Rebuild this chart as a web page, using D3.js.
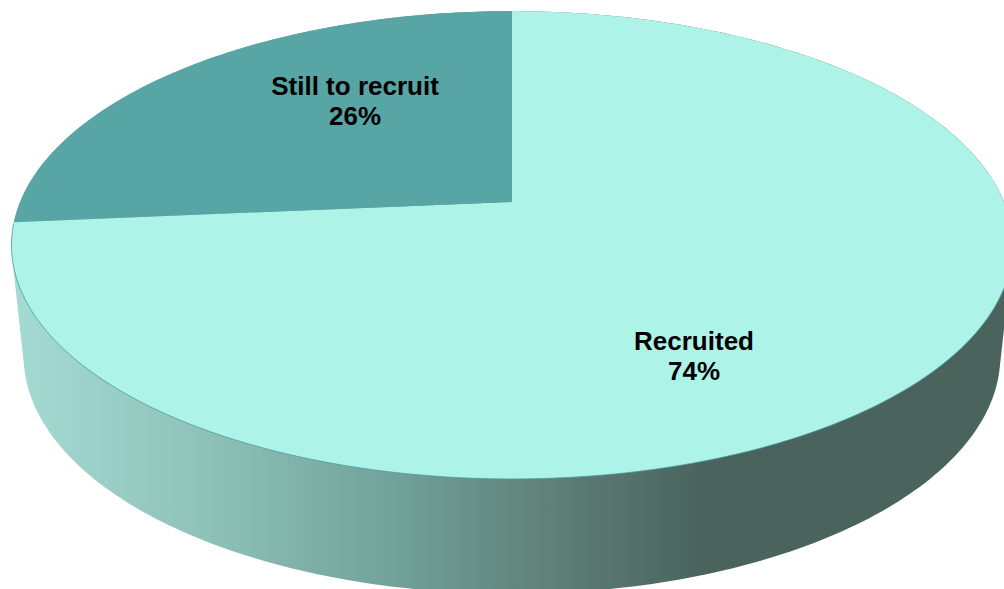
<!DOCTYPE html>
<html>
<head>
<meta charset="utf-8">
<script src="https://cdn.jsdelivr.net/npm/d3@7"></script>
<style>
  html, body { margin: 0; background: #fff; overflow: hidden; }
  svg { display: block; }
  text { font-family: "Liberation Sans", Arial, sans-serif; font-weight: bold; font-size: 26px; fill: #000; text-anchor: middle; }
</style>
</head>
<body>
<script>
const categories = ["Recruited", "Still to recruit"];
const shares = [73.6, 26.4]; // labels round these to 74 / 26
const sliceColors = ["#adf3e8", "#57a5a4"];

const width = 1004;
const height = 589;

const svg = d3.select("body").append("svg")
  .attr("width", width)
  .attr("height", height);

// the pie is tilted in perspective, so the centre sits above the middle of the ellipse
const tilt = 0.184;
function project(angle, view) {
  const u = Math.sin(angle);
  const v = -Math.cos(angle);
  const w = 1 - tilt * v;
  return [view.cx + view.rx * u / w, view.cy + view.ry * v / w];
}
const topView = { cx: 512, cy: 202, rx: 492, ry: 226 };
const bottomView = { cx: 512, cy: 312, rx: 480, ry: 230 };

function rim(start, end, view) {
  const n = Math.max(2, Math.ceil(Math.abs(end - start) * 60));
  return d3.range(n + 1).map(i => project(start + (end - start) * i / n, view));
}

// side wall: hull of both rims, top face covers the upper part
const wall = d3.polygonHull(rim(0, 2 * Math.PI, topView).concat(rim(0, 2 * Math.PI, bottomView)));

const grad = svg.append("defs").append("linearGradient")
  .attr("id", "wall")
  .attr("gradientUnits", "userSpaceOnUse")
  .attr("x1", 0).attr("x2", width).attr("y1", 0).attr("y2", 0);
grad.selectAll("stop")
  .data([[0.01, "#a4dbd2"], [0.2, "#8fc3ba"], [0.4, "#70a097"], [0.55, "#5f7f78"], [0.7, "#4a635d"], [1, "#4a635d"]])
  .join("stop")
  .attr("offset", d => d[0])
  .attr("stop-color", d => d[1]);

const line = d3.line();
svg.append("path")
  .attr("d", line(wall) + "Z")
  .attr("fill", "url(#wall)");

const arcs = d3.pie().sort(null)(shares);

svg.selectAll("path.slice")
  .data(arcs)
  .join("path")
  .attr("class", "slice")
  .attr("d", d => line([[topView.cx, topView.cy]].concat(rim(d.startAngle, d.endAngle, topView))) + "Z")
  .attr("fill", (d, i) => sliceColors[i]);

// thin darker edge along the front of the top face
svg.append("path")
  .attr("d", line(rim(Math.PI * 0.6, Math.PI * 1.47, topView)))
  .attr("fill", "none")
  .attr("stroke", "#4f9a9e")
  .attr("stroke-width", 0.8);

const labelSpots = [[694, 350], [355, 95]];
const labels = svg.selectAll("text")
  .data(arcs)
  .join("text")
  .attr("transform", (d, i) => `translate(${labelSpots[i]})`);
labels.append("tspan")
  .attr("x", 0).attr("y", 0)
  .text((d, i) => categories[i]);
labels.append("tspan")
  .attr("x", 0).attr("y", 30)
  .text(d => d3.format(".0f")(d.value) + "%");
</script>
</body>
</html>
